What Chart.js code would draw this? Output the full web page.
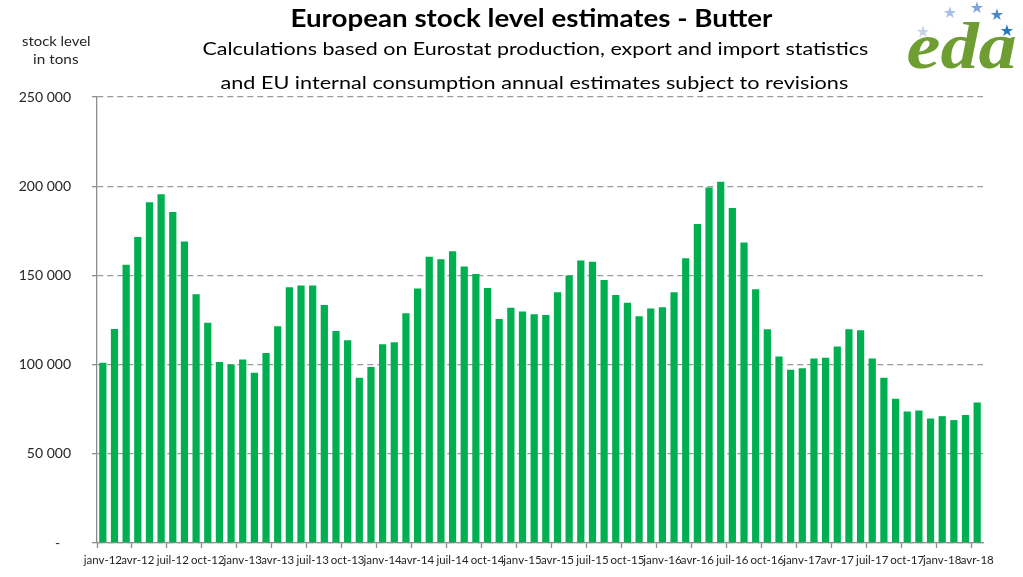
<!DOCTYPE html>
<html>
<head>
<meta charset="utf-8">
<script src="https://cdn.jsdelivr.net/npm/chart.js@4.4.0/dist/chart.umd.min.js"></script>
<style>
html,body{margin:0;padding:0;background:#fff;}
#wrap{position:relative;width:1023px;height:577px;overflow:hidden;font-family:Lato,"Open Sans",sans-serif;}
canvas{position:absolute;left:0;top:0;}
.t{position:absolute;white-space:nowrap;transform-origin:center center;color:#000;line-height:1;}
.star{position:absolute;font-family:"DejaVu Sans",sans-serif;line-height:1;transform:translate(-50%,-50%);}
</style>
</head>
<body>
<div id="wrap">
<canvas id="c" width="1023" height="577"></canvas>
<div class="t" data-cx="531" data-cy="17" data-w="482" style="font-weight:bold;font-size:25px">European stock level estimates - Butter</div>
<div class="t" data-cx="535" data-cy="48" data-w="666" style="font-size:18px">Calculations based on Eurostat production, export and import statistics</div>
<div class="t" data-cx="534" data-cy="82" data-w="628" style="font-size:18px">and EU internal consumption annual estimates subject to revisions</div>
<div class="t" data-cx="56" data-cy="41" data-w="69" style="font-size:14px;color:#262626">stock level</div>
<div class="t" data-cx="56" data-cy="59" data-w="46" style="font-size:14px;color:#262626">in tons</div>
<div class="t" data-cx="961" data-cy="46" data-w="110" style="font-family:'Liberation Serif',serif;font-style:italic;font-weight:bold;font-size:66px;color:#6e9e32">eda</div>
<span class="star" style="left:923px;top:32px;font-size:16px;color:#c9d0ea">★</span>
<span class="star" style="left:950px;top:13px;font-size:16px;color:#a9bfe6">★</span>
<span class="star" style="left:977px;top:8px;font-size:16px;color:#7ea2dc">★</span>
<span class="star" style="left:997px;top:15px;font-size:16px;color:#4b86cf">★</span>
<span class="star" style="left:1007px;top:31px;font-size:16px;color:#1d76c6">★</span>
</div>
<script>
const categories = [
 'janv-12','févr-12','mars-12','avr-12','mai-12','juin-12','juil-12','août-12','sept-12','oct-12','nov-12','déc-12',
 'janv-13','févr-13','mars-13','avr-13','mai-13','juin-13','juil-13','août-13','sept-13','oct-13','nov-13','déc-13',
 'janv-14','févr-14','mars-14','avr-14','mai-14','juin-14','juil-14','août-14','sept-14','oct-14','nov-14','déc-14',
 'janv-15','févr-15','mars-15','avr-15','mai-15','juin-15','juil-15','août-15','sept-15','oct-15','nov-15','déc-15',
 'janv-16','févr-16','mars-16','avr-16','mai-16','juin-16','juil-16','août-16','sept-16','oct-16','nov-16','déc-16',
 'janv-17','févr-17','mars-17','avr-17','mai-17','juin-17','juil-17','août-17','sept-17','oct-17','nov-17','déc-17',
 'janv-18','févr-18','mars-18','avr-18'
];
const stockTons = [
 101000,120000,156000,171500,191000,195500,185500,169000,139500,123500,101500,100000,
 102800,95500,106500,121500,143300,144300,144300,133400,118800,113700,92600,98700,
 111400,112500,128800,142600,160500,159000,163500,155000,150800,143000,125600,131800,
 129700,128200,127800,140500,149900,158300,157700,147400,139000,134600,127100,131400,
 132100,140500,159600,178800,199300,202500,187800,168500,142200,119800,104500,97100,
 98000,103400,103800,110100,119800,119300,103400,92600,80800,73700,74300,69800,
 71100,68900,71700,78800
];
const yTicks = [0, 50000, 100000, 150000, 200000, 250000];

// fit HTML texts
document.querySelectorAll('.t').forEach(el => {
  const w = el.offsetWidth, h = el.offsetHeight;
  const cx = +el.dataset.cx, cy = +el.dataset.cy, tw = +el.dataset.w;
  el.style.left = (cx - w / 2) + 'px';
  el.style.top = (cy - h / 2) + 'px';
  el.style.transform = 'scaleX(' + (tw / w) + ')';
});

function fmt(v) {
  return String(v).replace(/\B(?=(\d{3})+(?!\d))/g, ' ');
}

new Chart(document.getElementById('c'), {
  type: 'bar',
  data: {
    labels: categories,
    datasets: [{
      data: stockTons,
      backgroundColor: '#00b050',
      borderWidth: 0,
      categoryPercentage: 1,
      barPercentage: 0.62
    }]
  },
  options: {
    responsive: false,
    animation: false,
    layout: { padding: { top: 97, right: 40, left: 0, bottom: 0 } },
    plugins: { legend: { display: false }, tooltip: { enabled: false } },
    scales: {
      x: {
        offset: true,
        grid: {
          display: true, offset: true, drawOnChartArea: false, drawTicks: true, tickLength: 5, tickWidth: 1.3,
          tickColor: (c) => (c.index !== undefined && c.index % 3 === 0) ? '#8c8c8c' : 'rgba(0,0,0,0)'
        },
        border: { display: true, color: '#8c8c8c', width: 1.3 },
        ticks: {
          autoSkip: false, maxRotation: 0, minRotation: 0, padding: 5, color: '#1f1f1f',
          font: { family: 'Lato', size: 11.5 },
          callback: (v, i) => i % 3 === 0 ? categories[i] : ''
        },
        afterFit: (s) => { s.height = 34; }
      },
      y: {
        min: 0, max: 250000,
        afterBuildTicks: (s) => { s.ticks = yTicks.map(v => ({ value: v })); },
        grid: { color: '#9a9a9a', lineWidth: 1.3, drawTicks: true, tickLength: 5, tickColor: '#8c8c8c', tickWidth: 1.3 },
        border: { display: true, color: '#8c8c8c', width: 1.3, dash: [6, 4] },
        ticks: {
          padding: 21, color: '#262626', font: { family: 'Lato', size: 14 },
          callback: (v) => v === 0 ? '-   ' : fmt(v)
        },
        afterFit: (s) => { s.width = 97; }
      }
    }
  }
});
</script>
</body>
</html>
